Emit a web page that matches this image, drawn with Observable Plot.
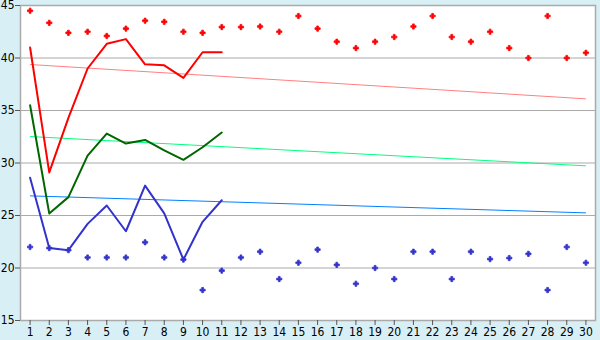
<!DOCTYPE html>
<html><head><meta charset="utf-8">
<script src="https://cdn.jsdelivr.net/npm/d3@7"></script>
<script src="https://cdn.jsdelivr.net/npm/@observablehq/plot@0.6"></script>
<style>
html,body{margin:0;padding:0;background:#d9eff6;}
</style></head><body><div id="chart"></div>
<script>
const days = [1,2,3,4,5,6,7,8,9,10,11,12,13,14,15,16,17,18,19,20,21,22,23,24,25,26,27,28,29,30];
const yTicks = [15,20,25,30,35,40,45];
const lineDays = [1,2,3,4,5,6,7,8,9,10,11];
const maxLine = [41.0, 29.1, 34.3, 39.0, 41.35, 41.8, 39.4, 39.3, 38.1, 40.55, 40.55];
const avgLine = [35.5, 25.2, 26.75, 30.7, 32.8, 31.85, 32.2, 31.2, 30.3, 31.5, 32.9];
const minLine = [28.6, 21.9, 21.7, 24.2, 25.95, 23.5, 27.85, 25.2, 20.8, 24.4, 26.45];
const maxPts = [44.5, 43.35, 42.4, 42.5, 42.1, 42.8, 43.55, 43.45, 42.5, 42.4, 42.95, 42.95, 43.0, 42.5, 44.0, 42.8, 41.55, 40.95, 41.55, 42.0, 43.0, 44.0, 42.0, 41.55, 42.5, 40.95, 40.0, 44.0, 40.0, 40.5];
const minPts = [22.0, 21.9, 21.7, 21.0, 21.0, 21.0, 22.45, 21.0, 20.8, 17.9, 19.75, 21.0, 21.55, 18.95, 20.5, 21.75, 20.3, 18.5, 20.0, 18.95, 21.55, 21.55, 18.95, 21.55, 20.85, 20.95, 21.35, 17.9, 22.0, 20.5];
const trendNames = ["max", "avg", "min"];
const trendStart = [39.38, 32.52, 26.87];
const trendEnd = [36.11, 29.73, 25.25];
const trendColors = ["#ff8080", "#00ff80", "#0080ff"];

const lineRows = (vals) => lineDays.map((d, i) => ({x: d, y: vals[i]}));
const ptRows = (vals) => days.map((d, i) => ({x: d, y: vals[i]}));
const trendRows = trendNames.map((n, i) => ({n, x1: days[0], y1: trendStart[i], x2: days[days.length - 1], y2: trendEnd[i], c: trendColors[i]}));

const chart = Plot.plot({
  width: 600, height: 340,
  marginLeft: 20, marginRight: 5, marginTop: 5, marginBottom: 20,
  style: {background: "#d9eff6", fontFamily: "'DejaVu Sans Condensed', 'DejaVu Sans', sans-serif", fontSize: "12px", color: "black", overflow: "visible"},
  x: {domain: [0.5, 30.5], label: null},
  y: {domain: [15, 45], label: null},
  marks: [
    Plot.frame({fill: "white", stroke: null}),
    Plot.gridY(yTicks, {stroke: "#aaaaaa", strokeOpacity: 1}),
    Plot.link(trendRows, {x1: "x1", y1: "y1", x2: "x2", y2: "y2", stroke: "c", strokeWidth: 1}),
    Plot.line(lineRows(maxLine), {x: "x", y: "y", stroke: "#ff0000", strokeWidth: 2}),
    Plot.line(lineRows(avgLine), {x: "x", y: "y", stroke: "#006600", strokeWidth: 2}),
    Plot.line(lineRows(minLine), {x: "x", y: "y", stroke: "#3333cc", strokeWidth: 2}),
    Plot.dot(ptRows(maxPts), {x: "x", y: "y", symbol: "cross", r: 2.2, fill: "#ff0000", stroke: "#ff0000", strokeWidth: 0.8}),
    Plot.dot(ptRows(minPts), {x: "x", y: "y", symbol: "cross", r: 2.2, fill: "#3333cc", stroke: "#3333cc", strokeWidth: 0.8}),
    Plot.frame({stroke: "#aaaaaa", strokeWidth: 1.5}),
    Plot.axisX(days, {tickSize: 5, tickPadding: 2, stroke: "#555", fill: "black", tickFormat: d => d, label: null}),
    Plot.axisY(yTicks, {tickSize: 5, tickPadding: 1, stroke: "#555", fill: "black", label: null})
  ]
});
document.getElementById("chart").append(chart);
</script></body></html>
